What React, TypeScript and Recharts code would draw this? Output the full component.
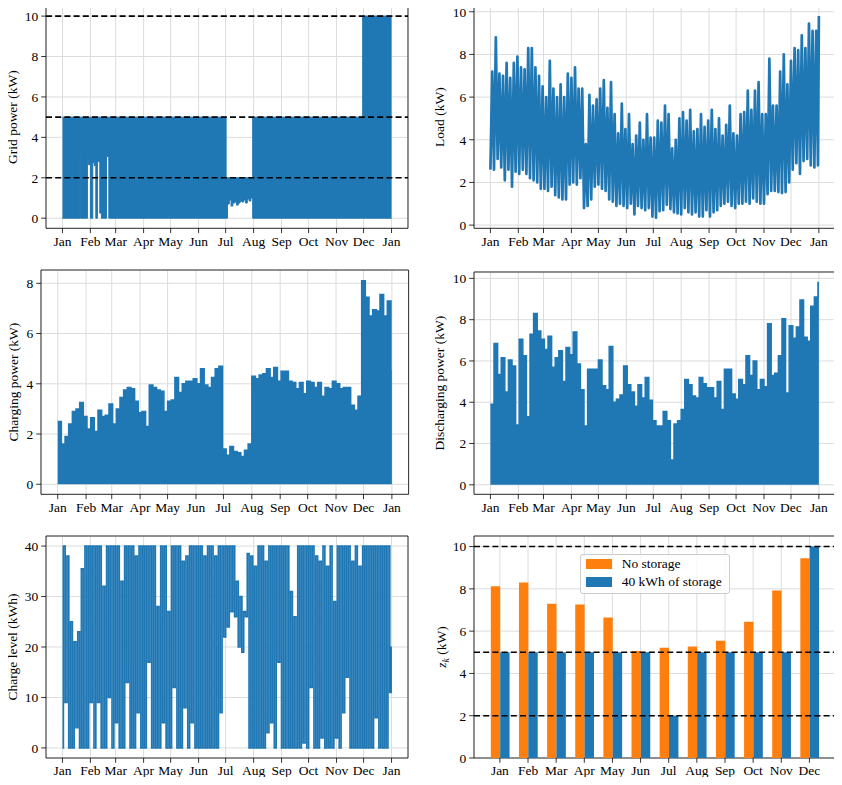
import React from "react";
import {
  ComposedChart,
  Line,
  Area,
  Bar,
  XAxis,
  YAxis,
  CartesianGrid,
  ReferenceLine,
  ReferenceArea,
  Legend,
} from "recharts";

const BLUE = "#1f77b4";
const ORANGE = "#ff7f0e";
const GRID_COLOR = "#dcdcdc";
const FONT = "'Liberation Serif', 'Times New Roman', serif";
const FONT_SIZE = 13.5;

// x axis of the hourly series: day of year
const MONTH_NAMES = ["Jan", "Feb", "Mar", "Apr", "May", "Jun", "Jul", "Aug", "Sep", "Oct", "Nov", "Dec"];
const MONTH_START = [0, 31, 59, 90, 120, 151, 181, 212, 243, 273, 304, 334, 365];
const MONTH_TICK_LABELS = [...MONTH_NAMES, "Jan"];
const YEAR_DOMAIN: [number, number] = [-18.25, 383.25];

// grid power: piecewise band (start day, lower edge, upper edge)
const GRID_DAY = [0, 19.4, 19.9, 27.7, 28.8, 31, 33.6, 35.2, 37, 38.8, 41.4, 43.2, 48.8, 51.4, 181.5, 183, 185, 187, 189, 191, 193, 195, 197, 199, 201, 203, 205, 207, 209, 211, 333, 365];
const GRID_MIN = [0, 3.1, 0, 2.85, 2.65, 0, 2.75, 2.6, 0, 2.8, 0.25, 0, 3.05, 0, 0, 0.7, 0.9, 0.6, 0.75, 0.8, 0.65, 0.75, 0.85, 0.8, 0.9, 0.75, 0.95, 0.85, 1.0, 0, 0, 0];
const GRID_MAX = [5, 5, 5, 5, 5, 5, 5, 5, 5, 5, 5, 5, 5, 5, 2, 2, 2, 2, 2, 2, 2, 2, 2, 2, 2, 2, 2, 2, 2, 5, 10, 10];
const GRID_LIMITS = [2, 5, 10];

// envelopes of the hourly series, one sample every 4 days
const ENVELOPE_STEP = 4;

const LOAD_MAX = [
  7.2, 8.8, 7.1, 7.0, 7.6, 6.9, 7.6, 7.9, 7.4, 7.3,
  8.3, 8.3, 7.4, 7.0, 6.5, 6.0, 7.7, 6.4, 6.0, 6.6,
  6.0, 7.1, 6.9, 7.4, 6.4, 6.4, 3.8, 6.1, 5.6, 5.9,
  6.4, 6.8, 5.5, 6.7, 5.2, 4.3, 5.7, 4.5, 5.2, 3.8,
  4.2, 4.8, 4.0, 5.2, 4.1, 4.1, 4.9, 4.8, 5.6, 5.2,
  3.6, 4.0, 5.0, 5.3, 4.9, 5.4, 4.4, 4.5, 5.2, 4.6,
  4.9, 5.4, 4.5, 5.0, 4.2, 4.7, 5.6, 4.3, 4.2, 5.2,
  5.3, 6.3, 5.4, 6.3, 6.7, 5.2, 5.2, 7.8, 5.6, 5.6,
  7.2, 8.0, 6.6, 7.7, 8.3, 8.2, 8.9, 8.3, 9.45, 9.1,
  9.1, 9.8,
];
const LOAD_MIN = [
  2.6, 2.6, 3.1, 2.7, 2.1, 2.6, 1.8, 2.5, 2.4, 2.6,
  2.4, 2.2, 2.1, 2.0, 1.7, 1.7, 1.6, 1.8, 1.4, 1.3,
  1.2, 1.2, 1.9, 2.0, 1.9, 2.2, 0.8, 0.9, 1.2, 1.8,
  1.9, 1.7, 1.6, 1.2, 1.1, 0.9, 1.0, 0.9, 0.8, 1.0,
  0.5, 0.9, 0.8, 0.7, 0.8, 0.4, 0.35, 0.65, 0.7, 0.95,
  0.75, 0.6, 0.55, 0.5, 0.8, 0.6, 0.5, 0.6, 0.4, 0.4,
  0.7, 0.4, 0.6, 0.7, 0.9, 1.0, 1.1, 0.9, 0.8, 1.0,
  1.0, 1.1, 1.0, 1.25, 1.1, 1.0, 1.0, 1.45, 1.6, 1.6,
  1.55, 1.5, 1.55, 2.0, 2.6, 2.9, 2.4, 3.0, 3.1, 2.8,
  2.7, 2.8,
];

const CHARGING_MAX = [
  2.5, 1.6, 1.9, 2.4, 2.9, 3.0, 3.25, 2.7, 2.2, 2.65,
  2.1, 2.95, 2.7, 2.75, 3.2, 2.4, 3.0, 3.45, 3.75, 3.85,
  3.8, 3.3, 2.85, 2.9, 2.3, 3.95, 3.85, 3.75, 3.7, 2.9,
  3.3, 3.35, 4.25, 3.65, 4.0, 4.1, 4.1, 4.2, 4.0, 4.6,
  3.95, 3.85, 4.25, 4.6, 4.7, 1.4, 1.15, 1.5, 1.3, 1.25,
  1.1, 1.35, 1.6, 4.3, 4.2, 4.35, 4.4, 4.6, 4.25, 4.65,
  4.1, 4.5, 4.5, 4.1, 4.05, 3.8, 4.05, 3.6, 4.1, 4.05,
  3.85, 4.05, 3.5, 3.85, 3.8, 4.1, 4.0, 3.8, 3.85, 3.85,
  3.15, 2.95, 3.5, 8.1, 7.45, 6.7, 6.95, 6.9, 7.55, 6.7,
  7.3, 4.5,
];

const DISCHARGING_MAX = [
  3.9, 6.85, 5.35, 6.15, 4.5, 6.05, 5.75, 2.9, 7.05, 6.25,
  3.3, 7.3, 8.3, 7.45, 7.05, 6.55, 7.2, 5.7, 6.15, 6.5,
  5.0, 6.65, 6.3, 7.4, 5.85, 4.6, 2.85, 5.6, 5.6, 5.6,
  6.05, 4.8, 4.6, 6.7, 4.0, 4.15, 4.35, 5.75, 4.85, 4.5,
  3.8, 4.85, 4.2, 5.2, 4.1, 3.1, 2.85, 2.85, 3.55, 3.1,
  1.2, 2.95, 3.1, 3.65, 5.1, 4.85, 4.3, 4.2, 5.2, 4.9,
  4.7, 4.7, 4.2, 5.0, 3.65, 5.6, 5.6, 4.4, 4.15, 5.1,
  4.85, 6.25, 5.3, 6.0, 4.6, 5.1, 4.75, 7.8, 5.3, 5.4,
  6.25, 8.05, 4.45, 7.7, 7.1, 7.65, 8.95, 7.15, 6.95, 8.65,
  9.1, 9.8,
];

const LEVEL_MAX = [
  40, 38, 25, 21, 23, 35.5, 40, 40, 40, 40,
  40, 32, 40, 40, 40, 40, 33, 40, 40, 40,
  38, 40, 40, 40, 40, 40, 28, 40, 40, 27,
  40, 40, 40, 37, 38, 40, 40, 40, 40, 38,
  40, 40, 38, 40, 40, 40, 40, 40, 33, 30,
  27, 38.5, 38, 36, 40, 40, 37, 40, 40, 40,
  40, 40, 40, 31, 26, 40, 40, 40, 40, 40,
  38, 37, 40, 36, 40, 29, 40, 40, 40, 40,
  37, 40, 36, 40, 40, 40, 40, 40, 40, 40,
  40, 20,
];
const LEVEL_MIN = [
  0, 9, 0, 0, 4, 0, 0, 0, 9, 0,
  9, 0, 0, 10, 0, 5, 0, 0, 13, 0,
  0, 7, 0, 0, 17, 0, 0, 0, 5, 0,
  0, 12, 0, 0, 8, 0, 5, 0, 0, 0,
  0, 0, 0, 0, 7, 22, 24, 27, 26, 20,
  19, 26, 0, 0, 0, 0, 0, 3, 5, 0,
  17, 0, 0, 0, 0, 0, 0, 1, 0, 12,
  0, 0, 2, 0, 0, 0, 2, 0, 7, 14,
  0, 0, 0, 0, 0, 0, 0, 6, 0, 0,
  0, 11,
];

// monthly peak grid power
const PEAK_NO_STORAGE = [8.12, 8.3, 7.3, 7.26, 6.64, 5.06, 5.22, 5.27, 5.55, 6.45, 7.92, 9.45];
const PEAK_WITH_STORAGE = [5, 5, 5, 5, 5, 5, 2, 5, 5, 5, 5, 10];
const LEGEND_ITEMS = [
  { label: "No storage", color: ORANGE },
  { label: "40 kWh of storage", color: BLUE },
];

// plot-area boxes in page pixels
type Box = { x: number; y: number; w: number; h: number };
const BOX: Record<string, Box> = {
  grid: { x: 46.3, y: 6, w: 362, h: 222.3 },
  load: { x: 474, y: 6, w: 361.3, h: 222.3 },
  charging: { x: 40.7, y: 270, w: 367.6, h: 224.3 },
  discharging: { x: 474, y: 272, w: 361.3, h: 222.3 },
  level: { x: 46.3, y: 536.3, w: 362, h: 222 },
  peaks: { x: 474, y: 536.3, w: 361.3, h: 222 },
};
const AXIS_W = 60;
const PAD_T = 5;
const PAD_R = 5;
const AXIS_H = 35;
const MARGIN = { top: PAD_T, right: PAD_R, bottom: 0, left: 0 };

// daily swing between the low and the high of each sample window
function zigzag(mins: number[], maxs: number[], key: string) {
  return mins.flatMap((lo, i) => {
    const d = i * ENVELOPE_STEP;
    return [
      { day: d, [key]: lo },
      { day: Math.min(d + ENVELOPE_STEP / 2, 365), [key]: maxs[i] },
    ];
  });
}

function steps(values: number[], key: string) {
  const rows = values.map((v, i) => ({ day: i * ENVELOPE_STEP, [key]: v }));
  rows.push({ day: 365, [key]: values[values.length - 1] });
  return rows;
}

const gridRows = GRID_DAY.map((day, i) => ({ day, power: [GRID_MIN[i], GRID_MAX[i]] }));
const loadRows = zigzag(LOAD_MIN, LOAD_MAX, "load");
const chargingRows = steps(CHARGING_MAX, "charging");
const dischargingRows = steps(DISCHARGING_MAX, "discharging");
const levelRows = zigzag(LEVEL_MIN, LEVEL_MAX, "level");
const peakRows = MONTH_NAMES.map((month, i) => ({
  idx: i,
  month,
  none: PEAK_NO_STORAGE[i],
  storage: PEAK_WITH_STORAGE[i],
}));

const tickStyle = { fontFamily: FONT, fontSize: FONT_SIZE, fill: "#000" };

function YTitle(props: any) {
  const { viewBox, gap, caption, sub, after } = props;
  const x = viewBox.x + viewBox.width - gap;
  const y = viewBox.y + viewBox.height / 2;
  return (
    <text
      x={x}
      y={y}
      dy="0.35em"
      transform={`rotate(-90, ${x}, ${y})`}
      textAnchor="middle"
      fontFamily={FONT}
      fontSize={FONT_SIZE}
      fill="#000"
    >
      {sub ? (
        <>
          <tspan fontStyle="italic">{caption}</tspan>
          <tspan fontStyle="italic" fontSize={9.5} dy={3}>{sub}</tspan>
          <tspan dy={-3}>{after}</tspan>
        </>
      ) : (
        caption
      )}
    </text>
  );
}

function frameOf(box: Box) {
  return {
    style: { position: "absolute" as const, left: box.x - AXIS_W, top: box.y - PAD_T },
    width: box.w + AXIS_W + PAD_R,
    height: box.h + PAD_T + AXIS_H,
  };
}

function axes(yDomain: [number, number], yTicks: number[], title: React.ReactElement) {
  return [
    <CartesianGrid key="grid" stroke={GRID_COLOR} strokeWidth={1} />,
    <XAxis
      key="x"
      dataKey="day"
      type="number"
      domain={YEAR_DOMAIN}
      ticks={MONTH_START}
      interval={0}
      allowDataOverflow
      tickFormatter={(d: number) => MONTH_TICK_LABELS[MONTH_START.indexOf(d)]}
      tick={tickStyle}
      tickLine={{ stroke: "#000", strokeWidth: 0.8 }}
      tickSize={4.8}
      tickMargin={3}
      axisLine={false}
      height={AXIS_H}
    />,
    <YAxis
      key="y"
      type="number"
      domain={yDomain}
      ticks={yTicks}
      interval={0}
      allowDataOverflow
      tick={tickStyle}
      tickLine={{ stroke: "#000", strokeWidth: 0.8 }}
      tickSize={4.8}
      tickMargin={3}
      axisLine={false}
      width={AXIS_W}
      label={title}
    />,
  ];
}

function border(x: [number, number], y: [number, number]) {
  return (
    <ReferenceArea
      key="border"
      x1={x[0]}
      x2={x[1]}
      y1={y[0]}
      y2={y[1]}
      fill="none"
      stroke="#000"
      strokeWidth={0.8}
      ifOverflow="visible"
    />
  );
}

function limitLines() {
  return GRID_LIMITS.map((v) => (
    <ReferenceLine key={`lim-${v}`} y={v} stroke="#000" strokeWidth={1.6} strokeDasharray="6 3.2" />
  ));
}

function GridPowerPanel() {
  const f = frameOf(BOX.grid);
  const yDomain: [number, number] = [-0.5, 10.5];
  return (
    <div style={f.style}>
      <ComposedChart width={f.width} height={f.height} data={gridRows} margin={MARGIN}>
        {axes(yDomain, [0, 2, 4, 6, 8, 10], <YTitle gap={33.6} caption="Grid power (kW)" />)}
        <Area
          dataKey="power"
          type="stepAfter"
          stroke={BLUE}
          strokeWidth={1}
          fill={BLUE}
          fillOpacity={1}
          isAnimationActive={false}
        />
        {limitLines()}
        {border(YEAR_DOMAIN, yDomain)}
      </ComposedChart>
    </div>
  );
}

function LoadPanel() {
  const f = frameOf(BOX.load);
  const yDomain: [number, number] = [-0.15, 10.27];
  return (
    <div style={f.style}>
      <ComposedChart width={f.width} height={f.height} data={loadRows} margin={MARGIN}>
        {axes(yDomain, [0, 2, 4, 6, 8, 10], <YTitle gap={34.7} caption="Load (kW)" />)}
        <Line
          dataKey="load"
          type="linear"
          stroke={BLUE}
          strokeWidth={2.7}
          strokeLinejoin="round"
          dot={false}
          isAnimationActive={false}
        />
        {border(YEAR_DOMAIN, yDomain)}
      </ComposedChart>
    </div>
  );
}

function ChargingPanel() {
  const f = frameOf(BOX.charging);
  const yDomain: [number, number] = [-0.4, 8.53];
  return (
    <div style={f.style}>
      <ComposedChart width={f.width} height={f.height} data={chargingRows} margin={MARGIN}>
        {axes(yDomain, [0, 2, 4, 6, 8], <YTitle gap={27.9} caption="Charging power (kW)" />)}
        <Area
          dataKey="charging"
          type="stepAfter"
          baseValue={0}
          stroke={BLUE}
          strokeWidth={1.5}
          fill={BLUE}
          fillOpacity={1}
          isAnimationActive={false}
        />
        {border(YEAR_DOMAIN, yDomain)}
      </ComposedChart>
    </div>
  );
}

function DischargingPanel() {
  const f = frameOf(BOX.discharging);
  const yDomain: [number, number] = [-0.46, 10.31];
  return (
    <div style={f.style}>
      <ComposedChart width={f.width} height={f.height} data={dischargingRows} margin={MARGIN}>
        {axes(yDomain, [0, 2, 4, 6, 8, 10], <YTitle gap={34.7} caption="Discharging power (kW)" />)}
        <Area
          dataKey="discharging"
          type="stepAfter"
          baseValue={0}
          stroke={BLUE}
          strokeWidth={1.5}
          fill={BLUE}
          fillOpacity={1}
          isAnimationActive={false}
        />
        {border(YEAR_DOMAIN, yDomain)}
      </ComposedChart>
    </div>
  );
}

function LevelPanel() {
  const f = frameOf(BOX.level);
  const yDomain: [number, number] = [-2, 42];
  return (
    <div style={f.style}>
      <ComposedChart width={f.width} height={f.height} data={levelRows} margin={MARGIN}>
        {axes(yDomain, [0, 10, 20, 30, 40], <YTitle gap={33.8} caption="Charge level (kWh)" />)}
        <Line
          dataKey="level"
          type="step"
          stroke={BLUE}
          strokeWidth={1.7}
          dot={false}
          isAnimationActive={false}
        />
        {border(YEAR_DOMAIN, yDomain)}
      </ComposedChart>
    </div>
  );
}

function StorageLegend() {
  return (
    <div
      style={{
        width: 150,
        boxSizing: "border-box",
        border: "1px solid #cccccc",
        borderRadius: 3,
        background: "rgba(255,255,255,0.8)",
        padding: "0 4px 2px 5px",
        fontFamily: FONT,
        fontSize: FONT_SIZE,
        color: "#000",
      }}
    >
      {LEGEND_ITEMS.map((item) => (
        <div key={item.label} style={{ display: "flex", alignItems: "center", height: 18, whiteSpace: "nowrap" }}>
          <span style={{ display: "inline-block", width: 26, height: 10, background: item.color, marginRight: 10 }} />
          {item.label}
        </div>
      ))}
    </div>
  );
}

function PeaksPanel() {
  const box = BOX.peaks;
  const f = frameOf(box);
  const xDomain: [number, number] = [-0.92, 11.92];
  const yDomain: [number, number] = [0, 10.5];
  const barWidth = (box.w / (xDomain[1] - xDomain[0])) / 3;
  return (
    <div style={f.style}>
      <ComposedChart width={f.width} height={f.height} data={peakRows} margin={MARGIN} barGap={0}>
        <CartesianGrid stroke={GRID_COLOR} strokeWidth={1} />
        <XAxis
          dataKey="idx"
          type="number"
          domain={xDomain}
          ticks={MONTH_NAMES.map((_, i) => i)}
          interval={0}
          allowDataOverflow
          tickFormatter={(i: number) => MONTH_NAMES[i]}
          tick={tickStyle}
          tickLine={{ stroke: "#000", strokeWidth: 0.8 }}
          tickSize={4.8}
          tickMargin={3}
          axisLine={false}
          height={AXIS_H}
        />
        <YAxis
          type="number"
          domain={yDomain}
          ticks={[0, 2, 4, 6, 8, 10]}
          interval={0}
          allowDataOverflow
          tick={tickStyle}
          tickLine={{ stroke: "#000", strokeWidth: 0.8 }}
          tickSize={4.8}
          tickMargin={3}
          axisLine={false}
          width={AXIS_W}
          label={<YTitle gap={32.7} caption="z" sub="k" after=" (kW)" />}
        />
        <Bar dataKey="none" name="No storage" fill={ORANGE} barSize={barWidth} isAnimationActive={false} />
        <Bar dataKey="storage" name="40 kWh of storage" fill={BLUE} barSize={barWidth} isAnimationActive={false} />
        {limitLines()}
        {border(xDomain, yDomain)}
        <Legend
          layout="vertical"
          align="center"
          verticalAlign="middle"
          content={() => <StorageLegend />}
          wrapperStyle={{ left: 579.7 - (box.x - AXIS_W), top: 554 - (box.y - PAD_T), width: "auto" }}
        />
      </ComposedChart>
    </div>
  );
}

export default function App() {
  return (
    <div style={{ position: "relative", width: 842, height: 785, margin: -8, background: "#fff", overflow: "hidden" }}>
      <GridPowerPanel />
      <LoadPanel />
      <ChargingPanel />
      <DischargingPanel />
      <LevelPanel />
      <PeaksPanel />
    </div>
  );
}
